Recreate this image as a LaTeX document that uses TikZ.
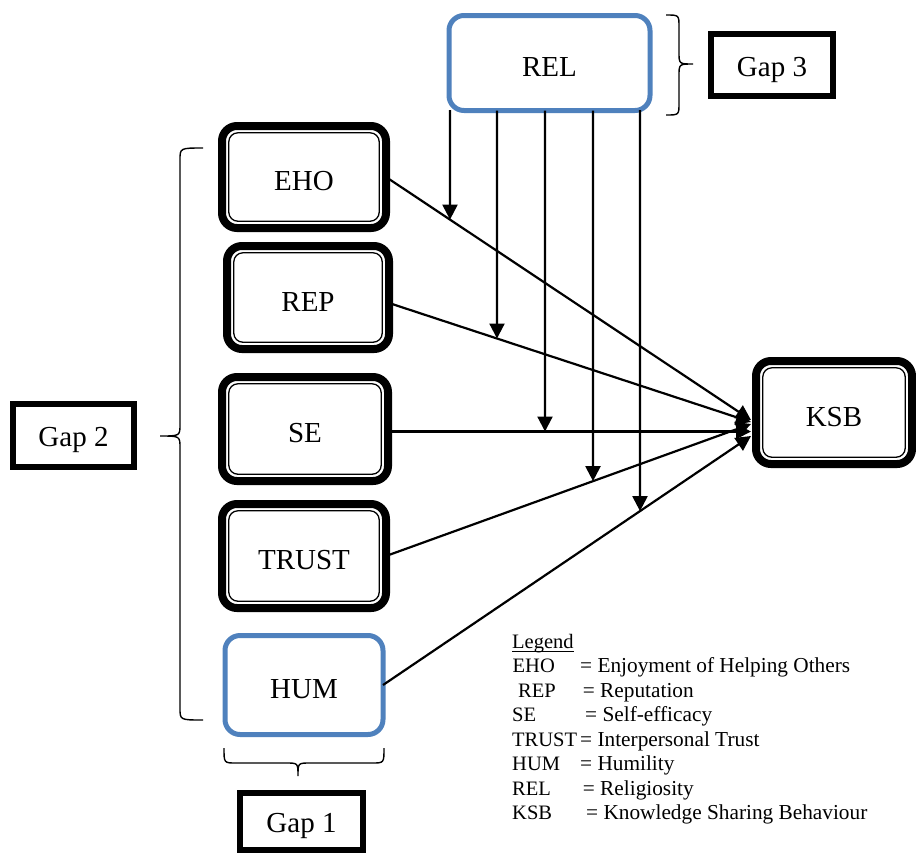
\documentclass[tikz,border=0pt]{standalone}
\usepackage{fontspec}
\setmainfont{Liberation Serif}
\usetikzlibrary{arrows.meta,calc,intersections}
\definecolor{relblue}{HTML}{4F81BD}
\begin{document}
\begin{tikzpicture}[x=1pt,y=-1pt,
  lbl/.style={font=\fontsize{29}{34}\selectfont, text height=27pt, text depth=0pt},
  dbox/.style={draw=black, line width=8pt, rounded corners=15pt, fill=white, lbl, inner sep=0pt, outer sep=0pt},
  innerline/.style={draw=black, line width=1.3pt, rounded corners=9pt},
  bbox/.style={draw=relblue, line width=5pt, rounded corners=15pt, fill=white, lbl, inner sep=0pt, outer sep=0pt},
  gapbox/.style={draw=black, line width=6pt, fill=white, lbl, text height=22pt, inner sep=0pt, outer sep=0pt},
  conn/.style={line width=2.2pt, -{Triangle[length=15pt,width=15pt]}},
  bracestroke/.style={line width=1.4pt},
  leg/.style={font=\fontsize{20.5}{25}\selectfont, anchor=base west, inner sep=0pt},
  legdef/.style={font=\fontsize{21.3}{25}\selectfont, anchor=base west, inner sep=0pt},
]
\useasboundingbox (0,0) rectangle (916,855);

% boxes
\node[dbox, minimum width=164pt, minimum height=102pt] (EHO) at (304,177) {EHO};
\node[dbox, minimum width=162pt, minimum height=103pt] (REP) at (308,297.5) {REP};
\node[dbox, minimum width=166pt, minimum height=104pt] (SE) at (305,429) {SE};
\node[dbox, minimum width=164pt, minimum height=104pt] (TRUST) at (304,556) {TRUST};
\node[bbox, minimum width=158pt, minimum height=99pt] (HUM) at (304,685) {HUM};
\node[dbox, minimum width=156pt, minimum height=103pt] (KSB) at (834,412.5) {KSB};
\node[bbox, minimum width=201pt, minimum height=95pt] (REL) at (549.5,63) {REL};
\node[gapbox, minimum width=122pt, minimum height=62pt] (G3) at (772,65) {Gap 3};
\node[gapbox, minimum width=121pt, minimum height=63pt] (G2) at (73.5,435.5) {Gap 2};
\node[gapbox, minimum width=123pt, minimum height=57pt] (G1) at (301.5,821.5) {Gap 1};

\foreach \n in {EHO,REP,SE,TRUST,KSB}
  \draw[innerline] ($(\n.north west)+(6.8,6.8)$) rectangle ($(\n.south east)+(-6.8,-6.8)$);

% arrow ends on KSB
\coordinate (kE) at (751,420);
\coordinate (kR) at (751,422);
\coordinate (kS) at (751,431.5);
\coordinate (kT) at (751,424);
\coordinate (kH) at (751,436);

\draw[conn, name path=pEHO] (EHO.east) -- (kE);
\draw[conn, name path=pREP] ([yshift=-5.5pt]REP.east) -- (kR);
\draw[conn, name path=pSE] ([yshift=-2.5pt]SE.east) -- (kS);
\draw[conn, name path=pTRUST] (TRUST.east) -- (kT);
\draw[conn, name path=pHUM] (HUM.east) -- (kH);

% moderating arrows from REL
\coordinate (v1) at (450,110);
\coordinate (v2) at (497,110.5);
\coordinate (v3) at (545,110.5);
\coordinate (v4) at (593,110.5);
\coordinate (v5) at (640,110);
\path[name path=d1] (v1) -- ++(0,700);
\path[name path=d2] (v2) -- ++(0,700);
\path[name path=d3] (v3) -- ++(0,700);
\path[name path=d4] (v4) -- ++(0,700);
\path[name path=d5] (v5) -- ++(0,700);
\path[name intersections={of=pEHO and d1, by=x1}];
\path[name intersections={of=pREP and d2, by=x2}];
\path[name intersections={of=pSE and d3, by=x3}];
\path[name intersections={of=pTRUST and d4, by=x4}];
\path[name intersections={of=pHUM and d5, by=x5}];
\draw[conn] (v1) -- (x1);
\draw[conn] (v2) -- (x2);
\draw[conn] (v3) -- (x3);
\draw[conn] (v4) -- (x4);
\draw[conn] (v5) -- (x5);

% braces
\draw[bracestroke] (203,148) .. controls (180,148) .. (180,160) -- (180,424)
  .. controls (180,436) .. (160,436) .. controls (180,436) .. (180,448) -- (180,708)
  .. controls (180,720) .. (203,720);
\draw[bracestroke] (666,15) .. controls (679,15) .. (679,27) -- (679,52)
  .. controls (679,64) .. (693,64) .. controls (679,64) .. (679,76) -- (679,103)
  .. controls (679,115) .. (666,115);
\draw[bracestroke] (224,748) .. controls (224,763) .. (236,763) -- (286,763)
  .. controls (298,763) .. (298,776) .. controls (298,763) .. (310,763) -- (372,763)
  .. controls (384,763) .. (384,748);

% legend
\node[leg] (L0) at (512,648) {Legend};
\draw[line width=1pt] ([yshift=-3.5pt]L0.base west) -- ([yshift=-3.5pt]L0.base east);
\node[leg] (a1) at (512.5,672.5) {EHO};   \node[legdef] (b1) at (580,672.5) {= Enjoyment of Helping Others};
\node[leg] (a2) at (518,697) {REP};       \node[legdef] (b2) at (582.7,697) {= Reputation};
\node[leg] (a3) at (512,721.5) {SE};      \node[legdef] (b3) at (585,721.5) {= Self-efficacy};
\node[leg] (a4) at (512,746) {TRUST};     \node[legdef] (b4) at (580,746) {= Interpersonal Trust};
\node[leg] (a5) at (512,770.5) {HUM};     \node[legdef] (b5) at (580,770.5) {= Humility};
\node[leg] (a6) at (512,795) {REL};       \node[legdef] (b6) at (582.7,795) {= Religiosity};
\node[leg] (a7) at (512,819.5) {KSB};     \node[legdef] (b7) at (586,819.5) {= Knowledge Sharing Behaviour};
\end{tikzpicture}
\end{document}
